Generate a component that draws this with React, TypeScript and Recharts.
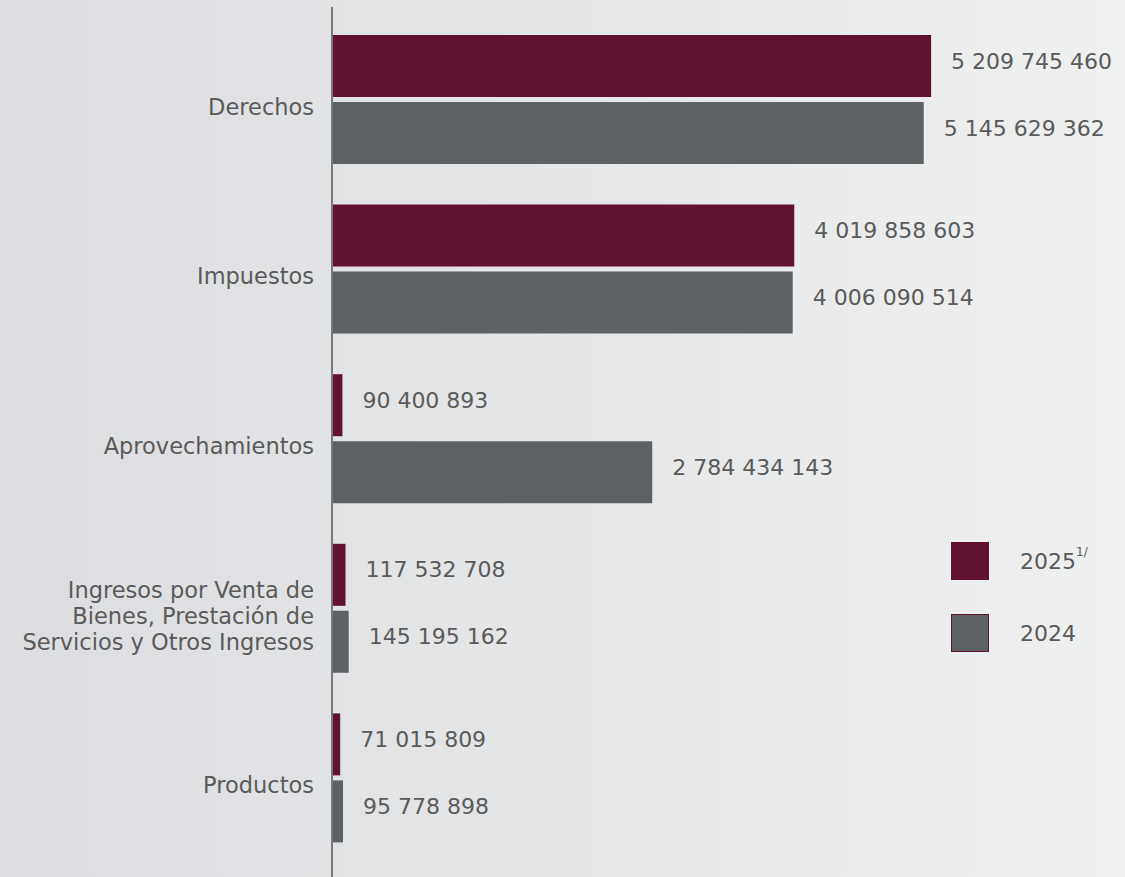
import { BarChart, Bar, XAxis, YAxis, LabelList } from 'recharts'

const categories = [
  'Derechos',
  'Impuestos',
  'Aprovechamientos',
  'Ingresos por Venta de\nBienes, Prestación de\nServicios y Otros Ingresos',
  'Productos',
]
const values2025 = [5209745460, 4019858603, 90400893, 117532708, 71015809]
const values2024 = [5145629362, 4006090514, 2784434143, 145195162, 95778898]
const seriesNames = ['2025', '2024']

const MAROON = '#611232'
const GRAY = '#5c6164'
const TEXT = '#5a5a5a'
const FONT = '"DejaVu Sans", sans-serif'

const data = categories.map((name, i) => ({
  name,
  y2025: values2025[i],
  y2024: values2024[i],
}))

function fmt(n: number) {
  return String(n).replace(/\B(?=(\d{3})+(?!\d))/g, ' ')
}

function CategoryTick({ x, y, payload }: any) {
  const lines = String(payload.value).split('\n')
  const lh = 26
  const start = y + 7 - ((lines.length - 1) * lh) / 2
  return (
    <text
      x={x - 10}
      y={start}
      textAnchor="end"
      dominantBaseline="central"
      fill={TEXT}
      fontSize={22.5}
      fontFamily={FONT}
    >
      {lines.map((l, i) => (
        <tspan key={i} x={x - 10} y={start + i * lh}>
          {l}
        </tspan>
      ))}
    </text>
  )
}

function ValueLabel({ x, y, width, height, value }: any) {
  return (
    <text
      x={x + width + 20}
      y={y + height / 2 - 5}
      dominantBaseline="central"
      fill={TEXT}
      fontSize={22}
      fontFamily={FONT}
    >
      {fmt(value)}
    </text>
  )
}

function LegendBox() {
  const items = [
    { label: seriesNames[0], color: MAROON, sup: '1/' },
    { label: seriesNames[1], color: GRAY, sup: '' },
  ]
  return (
    <div
      style={{
        position: 'absolute',
        left: 951,
        top: 542,
        fontFamily: FONT,
        color: TEXT,
        fontSize: 22,
      }}
    >
      {items.map((it) => (
        <div
          key={it.label}
          style={{ display: 'flex', alignItems: 'center', height: 38, marginBottom: 34 }}
        >
          <div
            style={{
              width: 36,
              height: 36,
              background: it.color,
              border: `1px solid ${MAROON}`,
              marginRight: 31,
            }}
          />
          <span>
            {it.label}
            {it.sup && (
              <sup style={{ fontSize: 12, verticalAlign: 'top', position: 'relative', top: -4 }}>
                {it.sup}
              </sup>
            )}
          </span>
        </div>
      ))}
    </div>
  )
}

export default function App() {
  return (
    <div
      style={{
        position: 'fixed',
        left: 0,
        top: 0,
        width: 1125,
        height: 877,
        background: 'linear-gradient(to right, #dcdde0, #eff0f0)',
      }}
    >
      <BarChart
        width={1125}
        height={877}
        data={data}
        layout="vertical"
        margin={{ top: 7, right: 103, bottom: 0, left: 0 }}
        barSize={62}
        barGap={5}
      >
        <XAxis type="number" hide domain={[0, 6000000000]} />
        <YAxis
          type="category"
          dataKey="name"
          width={332}
          axisLine={{ stroke: '#77787a', strokeWidth: 2 }}
          tickLine={false}
          tick={<CategoryTick />}
          padding={{ top: 8, bottom: 14 }}
          interval={0}
        />
        <Bar dataKey="y2025" name={seriesNames[0]} fill={MAROON} isAnimationActive={false}>
          <LabelList dataKey="y2025" content={<ValueLabel />} />
        </Bar>
        <Bar dataKey="y2024" name={seriesNames[1]} fill={GRAY} isAnimationActive={false}>
          <LabelList dataKey="y2024" content={<ValueLabel />} />
        </Bar>
      </BarChart>
      <LegendBox />
    </div>
  )
}
